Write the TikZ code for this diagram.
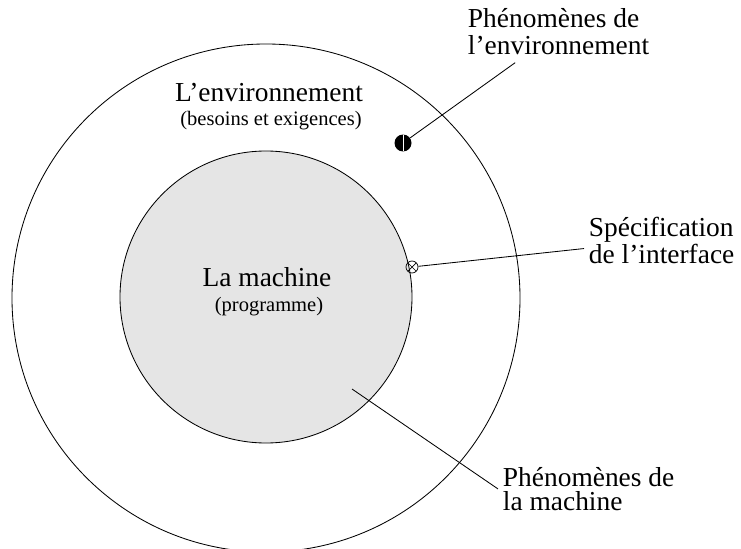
\documentclass[tikz,border=0pt]{standalone}
\usepackage{fontspec}
\setmainfont{Liberation Serif}
\usepackage{tikz}
\usetikzlibrary{positioning}
\tikzset{
  zone/.style={circle, draw, line width=0.6pt, inner sep=0pt, minimum size=#1},
  zonetitle/.style={anchor=base, inner sep=0pt, font=\fontsize{19.5}{20}\selectfont},
  zonesub/.style={anchor=base, inner sep=0pt, font=\fontsize{14.6}{16}\selectfont},
  phen/.style={align=left, anchor=base west, font=\fontsize{19.5}{#1}\selectfont},
  phen/.default=16.6pt,
  leader/.style={line width=0.6pt},
  envdot/.style={circle, fill=black, inner sep=0pt, minimum size=0.425cm,
    path picture={\draw[white, line width=0.7pt] (path picture bounding box.north) -- (path picture bounding box.south);}},
  ifacemark/.style={circle, draw, line width=0.5pt, inner sep=0pt, minimum size=0.3cm,
    path picture={\draw[line width=0.5pt] (path picture bounding box.north west) -- (path picture bounding box.south east)
      (path picture bounding box.south west) -- (path picture bounding box.north east);}},
}
\begin{document}
\begin{tikzpicture}
  \useasboundingbox (0,0) rectangle (18.525,13.7);
  \clip (0,0) rectangle (18.525,13.7);

  % the two zones
  \node[zone=12.7cm] (env) at (6.65, 6.25) {};
  \node[zone=7.3cm, fill=black!10] (machine) at (6.65, 6.275) {};

  \node[zonetitle] (envtitle) at (6.725, 11.15) {L’environnement};
  \node[zonesub] (envsub) at (6.775, 10.575) {(besoins et exigences)};
  \node[zonetitle] (machtitle) at (6.675, 6.55) {La machine};
  \node[zonesub] (machsub) at (6.725, 5.925) {(programme)};

  % phenomena
  \node[envdot] (dotenv) at (10.075, 10.125) {};
  \node[ifacemark] (iface) at (10.3, 7.025) {};
  \coordinate (machpt) at (8.8, 3.975);

  \node[phen=19.9pt] (lblenv) at (11.575, 12.325) {Phénomènes de\\l’environnement};
  \node[phen] (lbliface) at (14.6, 7.125) {Spécification\\de l’interface};
  \node[phen] (lblmach) at (12.45, 0.95) {Phénomènes de\\la machine};

  \draw[leader, shorten >=3pt] (dotenv) -- (lblenv);
  \draw[leader] (iface) -- (lbliface);
  \draw[leader] (machpt) -- (lblmach.west);
\end{tikzpicture}
\end{document}
